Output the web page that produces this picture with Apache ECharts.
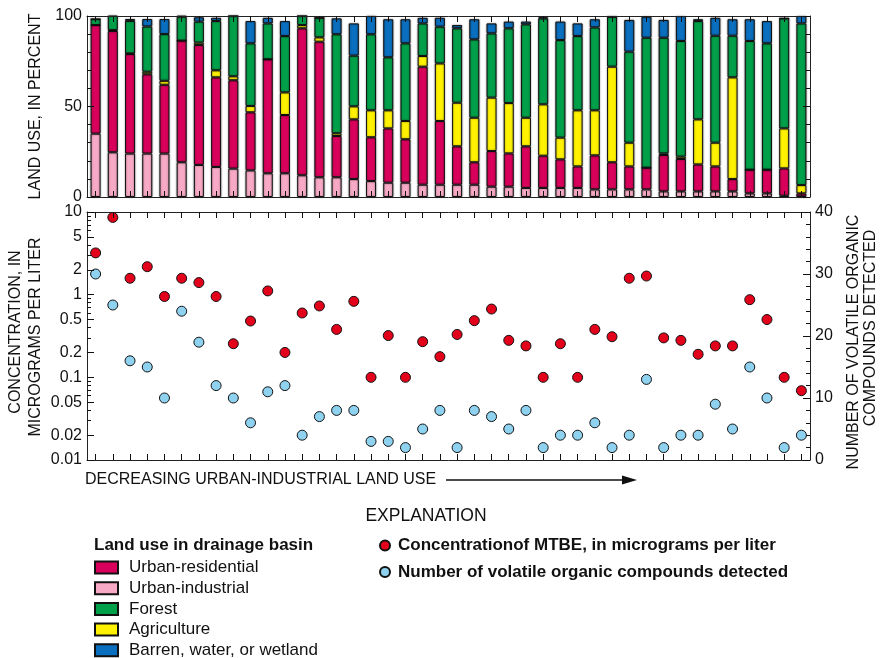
<!DOCTYPE html>
<html>
<head>
<meta charset="utf-8">
<script src="https://cdn.jsdelivr.net/npm/echarts@6/dist/echarts.min.js"></script>
<style>
  html, body { margin: 0; padding: 0; background: #fff; }
  #chart { width: 882px; height: 658px; }
</style>
</head>
<body>
<div id="chart"></div>
<script>
// Sampling sites, ordered by decreasing urban-industrial land use
const sites = ['1','2','3','4','5','6','7','8','9','10','11','12','13','14','15','16','17','18','19','20','21',
               '22','23','24','25','26','27','28','29','30','31','32','33','34','35','36','37','38','39','40','41','42'];

// Land use in each drainage basin, percent (stacked bottom to top)
const urbanIndustrial = [35, 24.7, 24, 24, 24, 19.2, 17.7, 16.6, 15.7, 14.7, 13.1, 13.1, 12, 10.9, 10.9, 9.9, 8.8, 7.9, 7.9, 6.8, 6.8,
                         6.8, 6.8, 5.7, 5.7, 5, 5, 5, 5, 4.2, 4.2, 4.2, 4.2, 3.1, 3.1, 3.1, 3.1, 3.1, 2, 2, 0.7, 0.3];
const urbanResidential = [60, 67, 55, 43.8, 38, 67.2, 66.3, 49.5, 48.8, 32.1, 63, 32.2, 81.2, 74.9, 22.8, 33, 24.2, 30, 24, 65.2, 35.2,
                          21.2, 12.4, 19.7, 18.4, 23, 17.8, 15.8, 11.9, 18.8, 15, 12.7, 12, 20.1, 17.9, 14.9, 13.8, 6.8, 13.1, 13.1, 15.1, 1.7];
const agriculture = [0, 0.5, 0.3, 1.4, 2.2, 0, 1.3, 3.9, 2.2, 3.5, 0, 12.5, 1.8, 2.4, 1.5, 7.2, 14.9, 10, 10.1, 5.9, 31.8,
                     24.1, 24.6, 29.5, 27.8, 15.8, 28.4, 12, 31, 24.9, 52.8, 13.1, 0, 0.9, 1.3, 24.9, 13.1, 56.2, 0, 0, 22.1, 4.6];
const forest = [3.3, 8.3, 18, 25, 25.8, 13.2, 11.6, 27.2, 33.3, 34.6, 19.8, 31.1, 5, 10.8, 54.7, 28, 42, 29.3, 42.9, 18, 20.3,
                41.1, 43.3, 35.5, 41.3, 51.6, 47.5, 53.9, 41, 45.8, 27.6, 50.3, 71.8, 63.9, 63.9, 54.3, 59.1, 23, 71.1, 69.8, 60.8, 89.3];
const barren = [0, 0, 1, 4.1, 8.3, 0.5, 2.4, 1.8, 0, 12.3, 3.1, 8.3, 0, 0, 8.8, 17.8, 10.1, 21, 13.3, 3.1, 4.9,
                1.8, 11.1, 5.5, 3.7, 1.5, 0.6, 10.2, 7, 4.5, 0, 17.5, 11.6, 9.8, 13.8, 1, 9.9, 9.1, 12, 12.3, 0, 4.1];

// MTBE concentration, micrograms per liter
const mtbe = [3.2, 8.6, 1.58, 2.18, 0.95, 1.58, 1.4, 0.95, 0.255, 0.48, 1.11, 0.2, 0.6, 0.73, 0.38, 0.83, 0.1, 0.32, 0.1, 0.27, 0.178,
              0.33, 0.485, 0.67, 0.28, 0.24, 0.1, 0.255, 0.1, 0.38, 0.31, 1.58, 1.68, 0.3, 0.28, 0.19, 0.24, 0.24, 0.87, 0.5, 0.1, 0.069];
// Number of volatile organic compounds detected
const vocCount = [30, 25, 16, 15, 10, 24, 19, 12, 10, 6, 11, 12, 4, 7, 8, 8, 3, 3, 2, 5, 8,
                  2, 8, 7, 5, 8, 2, 4, 4, 6, 2, 4, 13, 2, 4, 4, 9, 5, 15, 10, 2, 4];

// Concentration axis: labelled ticks and the unlabelled ticks between them
const concTicks = [10, 5, 2, 1, 0.5, 0.2, 0.1, 0.05, 0.02, 0.01];
const concTickLabels = ['10', '5', '2', '1', '0.5', '0.2', '0.1', '0.05', '0.02', '0.01'];
const concMinorTicks = [0.03, 0.04, 0.06, 0.07, 0.08, 0.09, 0.3, 0.4, 0.6, 0.7, 0.8, 0.9, 3, 4, 6, 7, 8, 9];

const FONT = '"Liberation Sans", Arial, Helvetica, sans-serif';
const INK = '#111';
const lineStyle = { color: '#222', width: 1 };

const colors = {
  residential: '#d9005b',
  industrial: '#f7a9c5',
  forest: '#00a04a',
  agriculture: '#fff200',
  barren: '#0a6fbf',
  mtbe: '#e2001a',
  voc: '#8fd2f0'
};

function catAxis(gridIndex, position) {
  return {
    type: 'category', gridIndex, position, data: sites, boundaryGap: true, z: 10,
    axisLine: { show: true, onZero: false, lineStyle },
    axisTick: { show: true, inside: true, alignWithLabel: true, interval: 0, length: 6, lineStyle: { color: INK } },
    axisLabel: { show: false, interval: 0 },
    splitLine: { show: false }
  };
}

const log10 = v => Math.log10(v);

const barStyle = color => ({
  color, borderColor: '#111', borderWidth: 1,
  shadowColor: 'rgba(0,0,0,0.45)', shadowBlur: 2
});

function landSeries(name, data, color) {
  return {
    name, type: 'bar', stack: 'land', data, xAxisIndex: 0, yAxisIndex: 0,
    barWidth: 10, itemStyle: barStyle(color), emphasis: { disabled: true }
  };
}

const chart = echarts.init(document.getElementById('chart'), null, { renderer: 'canvas' });

chart.setOption({
  animation: false,
  textStyle: { fontFamily: FONT, color: INK },
  grid: [
    { left: 87, top: 16, width: 723, height: 181, outerBoundsMode: 'none' },
    { left: 87, top: 212, width: 723, height: 248, outerBoundsMode: 'none' }
  ],
  xAxis: [catAxis(0, 'bottom'), catAxis(0, 'top'), catAxis(1, 'bottom'), catAxis(1, 'top')],
  yAxis: [
    { // land use, left
      type: 'value', gridIndex: 0, position: 'left', min: 0, max: 100, interval: 50, z: 10,
      axisLine: { show: true, lineStyle },
      axisTick: { show: true, inside: true, length: 7, lineStyle: { color: INK } },
      minorTick: { show: true, splitNumber: 5, length: 4, lineStyle: { color: INK } },
      axisLabel: { fontSize: 16, color: INK, margin: 5, fontFamily: FONT },
      splitLine: { show: false }
    },
    { // land use, right
      type: 'value', gridIndex: 0, position: 'right', min: 0, max: 100, interval: 50, z: 10,
      axisLine: { show: true, lineStyle },
      axisTick: { show: true, inside: true, length: 7, lineStyle: { color: INK } },
      minorTick: { show: true, splitNumber: 5, length: 4, lineStyle: { color: INK } },
      axisLabel: { show: false },
      splitLine: { show: false }
    },
    { // concentration (log scale) used by the MTBE points
      type: 'log', logBase: 10, gridIndex: 1, position: 'left', min: 0.01, max: 10,
      axisLine: { show: true, lineStyle },
      axisTick: { show: false }, axisLabel: { show: false },
      splitLine: { show: false }, minorTick: { show: false }
    },
    { // labelled concentration ticks, in decade units
      type: 'value', gridIndex: 1, position: 'left', min: -2, max: 1, z: 10,
      axisLine: { show: false },
      axisTick: { show: true, inside: true, length: 7, customValues: concTicks.map(log10), lineStyle: { color: INK } },
      axisLabel: {
        show: true, fontSize: 16, color: INK, margin: 5, fontFamily: FONT,
        customValues: concTicks.map(log10),
        formatter: v => {
          const i = concTicks.findIndex(t => Math.abs(log10(t) - v) < 1e-6);
          return i >= 0 ? concTickLabels[i] : '';
        }
      },
      splitLine: { show: false }
    },
    { // intermediate concentration ticks
      type: 'value', gridIndex: 1, position: 'left', min: -2, max: 1, z: 10,
      axisLine: { show: false },
      axisTick: { show: true, inside: true, length: 4, customValues: concMinorTicks.map(log10), lineStyle: { color: INK } },
      axisLabel: { show: false, customValues: [] },
      splitLine: { show: false }
    },
    { // number of compounds, right
      type: 'value', gridIndex: 1, position: 'right', min: 0, max: 40, interval: 10, z: 10,
      axisLine: { show: true, lineStyle },
      axisTick: { show: true, inside: true, length: 7, lineStyle: { color: INK } },
      minorTick: { show: true, splitNumber: 5, length: 4, lineStyle: { color: INK } },
      axisLabel: { fontSize: 16, color: INK, margin: 5, fontFamily: FONT },
      splitLine: { show: false }
    }
  ],
  legend: [
    {
      data: ['Urban-residential', 'Urban-industrial', 'Forest', 'Agriculture', 'Barren, water, or wetland'],
      orient: 'vertical', left: 94, top: 559, width: 300, height: 140, padding: 0,
      itemWidth: 23, itemHeight: 12, itemGap: 3.7, icon: 'rect', selectedMode: false,
      textStyle: { fontSize: 17, color: INK, lineHeight: 17, fontFamily: FONT, padding: [0, 0, 0, 6] }
    },
    {
      data: ['Concentrationof MTBE, in micrograms per liter', 'Number of volatile organic compounds detected'],
      orient: 'vertical', left: 379, top: 537, padding: 0,
      itemWidth: 10, itemHeight: 10, itemGap: 9.5, icon: 'circle', selectedMode: false,
      textStyle: { fontSize: 17, fontWeight: 'bold', color: INK, lineHeight: 17, fontFamily: FONT, padding: [0, 0, 0, 3] }
    }
  ],
  series: [
    landSeries('Urban-industrial', urbanIndustrial, colors.industrial),
    landSeries('Urban-residential', urbanResidential, colors.residential),
    landSeries('Agriculture', agriculture, colors.agriculture),
    landSeries('Forest', forest, colors.forest),
    landSeries('Barren, water, or wetland', barren, colors.barren),
    {
      name: 'Concentrationof MTBE, in micrograms per liter', type: 'scatter',
      xAxisIndex: 2, yAxisIndex: 2, data: mtbe, symbolSize: 10, z: 5,
      itemStyle: { color: colors.mtbe, borderColor: '#111', borderWidth: 1, opacity: 1 },
      emphasis: { disabled: true }
    },
    {
      name: 'Number of volatile organic compounds detected', type: 'scatter',
      xAxisIndex: 2, yAxisIndex: 5, data: vocCount, symbolSize: 10, z: 5,
      itemStyle: { color: colors.voc, borderColor: '#111', borderWidth: 1, opacity: 1 },
      emphasis: { disabled: true }
    }
  ],
  graphic: [
    { type: 'text', x: 36, y: 106.5, rotation: Math.PI / 2,
      style: { text: 'LAND USE, IN PERCENT', fontSize: 16, fontFamily: FONT, fill: INK, align: 'center', verticalAlign: 'middle' } },
    { type: 'text', x: 15.5, y: 332, rotation: Math.PI / 2,
      style: { text: 'CONCENTRATION, IN', fontSize: 16, fontFamily: FONT, fill: INK, align: 'center', verticalAlign: 'middle' } },
    { type: 'text', x: 35.5, y: 337, rotation: Math.PI / 2,
      style: { text: 'MICROGRAMS PER LITER', fontSize: 16, fontFamily: FONT, fill: INK, align: 'center', verticalAlign: 'middle' } },
    { type: 'text', x: 853.5, y: 342, rotation: Math.PI / 2,
      style: { text: 'NUMBER OF VOLATILE ORGANIC', fontSize: 16, fontFamily: FONT, fill: INK, align: 'center', verticalAlign: 'middle' } },
    { type: 'text', x: 870.5, y: 328, rotation: Math.PI / 2,
      style: { text: 'COMPOUNDS DETECTED', fontSize: 16, fontFamily: FONT, fill: INK, align: 'center', verticalAlign: 'middle' } },
    { type: 'text', x: 85, y: 480,
      style: { text: 'DECREASING URBAN-INDUSTRIAL LAND USE', fontSize: 16, fontFamily: FONT, fill: INK, align: 'left', verticalAlign: 'middle' } },
    { type: 'line', shape: { x1: 446, y1: 480, x2: 626, y2: 480 }, style: { stroke: INK, lineWidth: 1.5 } },
    { type: 'polygon', shape: { points: [[622, 475.5], [637, 480], [622, 484.5]] }, style: { fill: INK } },
    { type: 'text', x: 426, y: 516,
      style: { text: 'EXPLANATION', fontSize: 17.5, fontFamily: FONT, fill: INK, align: 'center', verticalAlign: 'middle' } },
    { type: 'text', x: 94, y: 545,
      style: { text: 'Land use in drainage basin', fontSize: 17, fontWeight: 'bold', fontFamily: FONT, fill: INK, align: 'left', verticalAlign: 'middle' } }
  ]
});
</script>
</body>
</html>
